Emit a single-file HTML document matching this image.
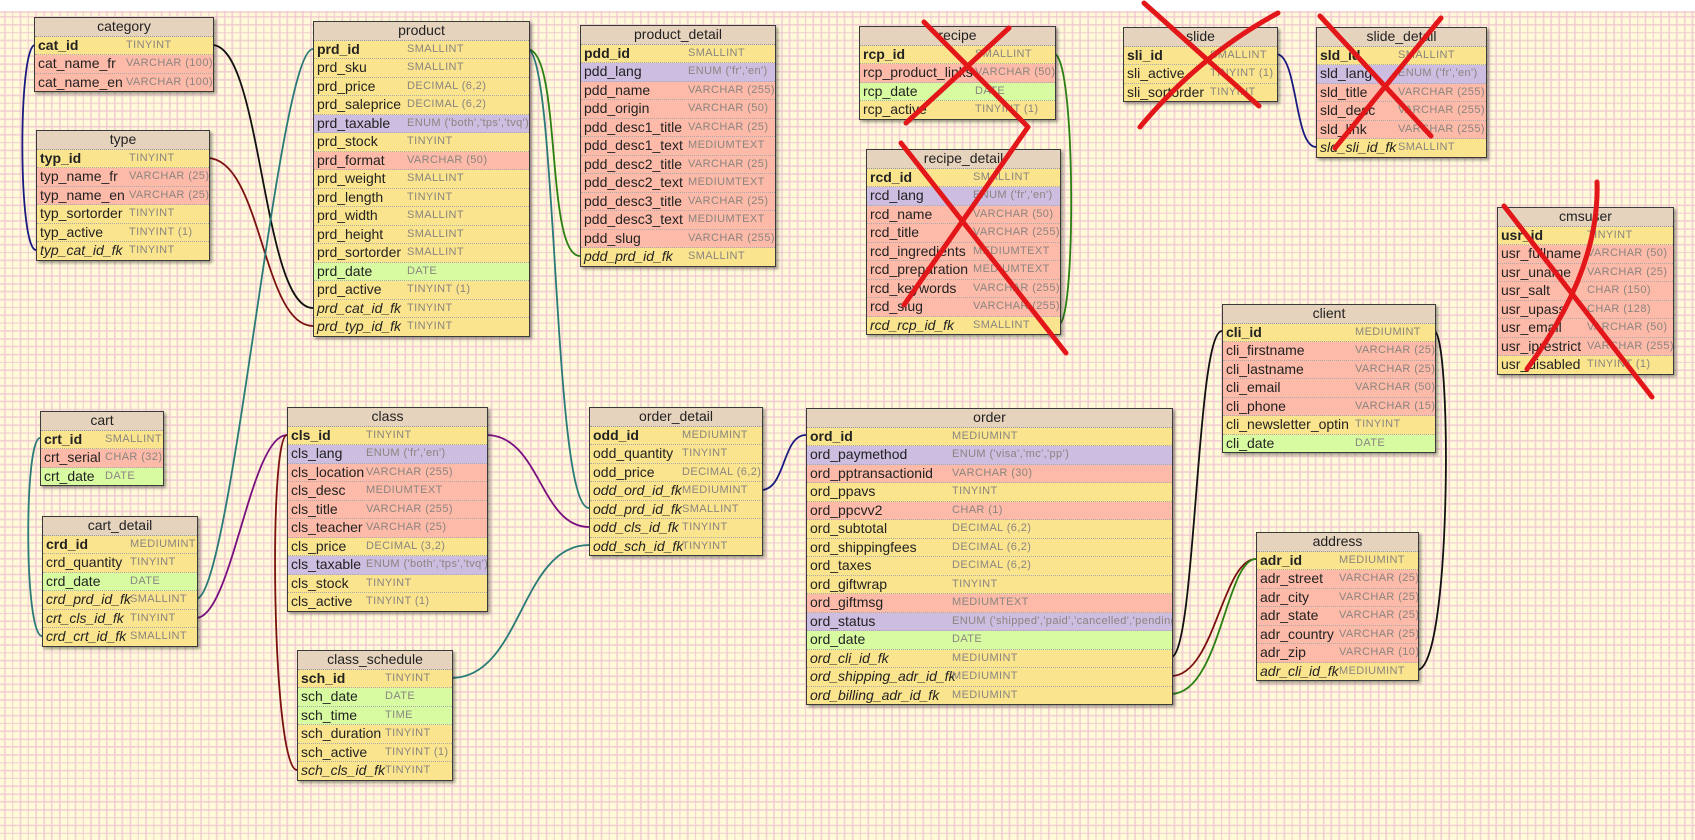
<!DOCTYPE html>
<html><head><meta charset="utf-8">
<style>
html,body{margin:0;padding:0}
body{width:1695px;height:840px;position:relative;overflow:hidden;background:#fff;font-family:"Liberation Sans",sans-serif}
#grid{position:absolute;left:0;top:11px;width:1695px;height:829px;background-color:#fffad8;
background-image:repeating-linear-gradient(90deg,rgba(240,200,210,.8) 0 1.6px,transparent 1.6px 7.85px),repeating-linear-gradient(0deg,rgba(240,200,210,.8) 0 1.6px,transparent 1.6px 7.85px);background-position:4px 2px}
.t{position:absolute;border:1px solid #3a3a3a;box-shadow:2px 2px 3px rgba(0,0,0,.4);background:#fbe48e}
.h{height:17.5px;line-height:17.5px;text-align:center;background:#e6d3bd;font-size:14px;color:#222;border-bottom:1px dotted #999}
.r{position:relative;overflow:hidden;height:17.5px;line-height:17.5px;border-bottom:1px dotted #aaa;font-size:14px;color:#222;padding-left:3px;white-space:nowrap}
.r:last-child{border-bottom:none}
.r span{position:absolute;top:0;left:var(--c);font-size:11px;letter-spacing:.4px;color:#8a8580}
.y{background:#fbe48e}.p{background:#fdbaa8}.u{background:#cdbde0}.g{background:#d8fba2}
.r b{font-weight:bold}
.r i{font-style:italic}
svg{position:absolute;left:0;top:0}
</style></head><body>
<div id="grid"></div>
<svg width="1695" height="840" fill="none" stroke-width="1.8">
<path d="M212 45 C262 45,262 308,313 308" stroke="#111"/>
<path d="M35 45 C18 45,18 250,36 250" stroke="#1a1a80"/>
<path d="M207 158 C262 158,262 326,313 326" stroke="#7a1010"/>
<path d="M313 49 C278 49,232 599,196 599" stroke="#2a7a78"/>
<path d="M527 49 C562 49,545 256,580 256" stroke="#2a8010"/>
<path d="M527 49 C558 49,552 508,589 508" stroke="#2a7a78"/>
<path d="M1054 54 C1076 54,1076 324,1059 324" stroke="#2a8010"/>
<path d="M1276 54 C1298 54,1294 147,1316 147" stroke="#1a1a80"/>
<path d="M40 438 C24 438,24 636,42 636" stroke="#2a7a78"/>
<path d="M287 435 C250 435,232 618,196 618" stroke="#7a1080"/>
<path d="M287 435 C268 435,272 770,297 770" stroke="#7a1010"/>
<path d="M486 435 C540 435,540 527,589 527" stroke="#7a1080"/>
<path d="M451 678 C522 678,520 545,589 545" stroke="#2a7a78"/>
<path d="M806 435 C782 435,786 490,761 490" stroke="#1a1a80"/>
<path d="M1222 331 C1196 331,1196 657,1171 657" stroke="#111"/>
<path d="M1434 331 C1452 331,1452 670,1417 670" stroke="#111"/>
<path d="M1256 559 C1222 559,1215 676,1171 676" stroke="#7a1010"/>
<path d="M1256 559 C1226 559,1220 694,1171 694" stroke="#2a8010"/>
</svg>

<div class="t" style="left:34px;top:17px;width:178px;--c:91px"><div class="h">category</div>
<div class="r y"><b>cat_id</b><span>TINYINT</span></div>
<div class="r p">cat_name_fr<span>VARCHAR (100)</span></div>
<div class="r p">cat_name_en<span>VARCHAR (100)</span></div></div>

<div class="t" style="left:36px;top:130px;width:172px;--c:92px"><div class="h">type</div>
<div class="r y"><b>typ_id</b><span>TINYINT</span></div>
<div class="r p">typ_name_fr<span>VARCHAR (25)</span></div>
<div class="r p">typ_name_en<span>VARCHAR (25)</span></div>
<div class="r y">typ_sortorder<span>TINYINT</span></div>
<div class="r y">typ_active<span>TINYINT (1)</span></div>
<div class="r y"><i>typ_cat_id_fk</i><span>TINYINT</span></div></div>

<div class="t" style="left:313px;top:21px;width:215px;--c:93px"><div class="h">product</div>
<div class="r y"><b>prd_id</b><span>SMALLINT</span></div>
<div class="r y">prd_sku<span>SMALLINT</span></div>
<div class="r y">prd_price<span>DECIMAL (6,2)</span></div>
<div class="r y">prd_saleprice<span>DECIMAL (6,2)</span></div>
<div class="r u">prd_taxable<span>ENUM ('both','tps','tvq')</span></div>
<div class="r y">prd_stock<span>TINYINT</span></div>
<div class="r p">prd_format<span>VARCHAR (50)</span></div>
<div class="r y">prd_weight<span>SMALLINT</span></div>
<div class="r y">prd_length<span>TINYINT</span></div>
<div class="r y">prd_width<span>SMALLINT</span></div>
<div class="r y">prd_height<span>SMALLINT</span></div>
<div class="r y">prd_sortorder<span>SMALLINT</span></div>
<div class="r g">prd_date<span>DATE</span></div>
<div class="r y">prd_active<span>TINYINT (1)</span></div>
<div class="r y"><i>prd_cat_id_fk</i><span>TINYINT</span></div>
<div class="r y"><i>prd_typ_id_fk</i><span>TINYINT</span></div></div>

<div class="t" style="left:580px;top:25px;width:194px;--c:107px"><div class="h">product_detail</div>
<div class="r y"><b>pdd_id</b><span>SMALLINT</span></div>
<div class="r u">pdd_lang<span>ENUM ('fr','en')</span></div>
<div class="r p">pdd_name<span>VARCHAR (255)</span></div>
<div class="r p">pdd_origin<span>VARCHAR (50)</span></div>
<div class="r p">pdd_desc1_title<span>VARCHAR (25)</span></div>
<div class="r p">pdd_desc1_text<span>MEDIUMTEXT</span></div>
<div class="r p">pdd_desc2_title<span>VARCHAR (25)</span></div>
<div class="r p">pdd_desc2_text<span>MEDIUMTEXT</span></div>
<div class="r p">pdd_desc3_title<span>VARCHAR (25)</span></div>
<div class="r p">pdd_desc3_text<span>MEDIUMTEXT</span></div>
<div class="r p">pdd_slug<span>VARCHAR (255)</span></div>
<div class="r y"><i>pdd_prd_id_fk</i><span>SMALLINT</span></div></div>

<div class="t" style="left:859px;top:26px;width:195px;--c:115px"><div class="h">recipe</div>
<div class="r y"><b>rcp_id</b><span>SMALLINT</span></div>
<div class="r p">rcp_product_links<span>VARCHAR (50)</span></div>
<div class="r g">rcp_date<span>DATE</span></div>
<div class="r y">rcp_active<span>TINYINT (1)</span></div></div>

<div class="t" style="left:866px;top:149px;width:193px;--c:106px"><div class="h">recipe_detail</div>
<div class="r y"><b>rcd_id</b><span>SMALLINT</span></div>
<div class="r u">rcd_lang<span>ENUM ('fr','en')</span></div>
<div class="r p">rcd_name<span>VARCHAR (50)</span></div>
<div class="r p">rcd_title<span>VARCHAR (255)</span></div>
<div class="r p">rcd_ingredients<span>MEDIUMTEXT</span></div>
<div class="r p">rcd_preparation<span>MEDIUMTEXT</span></div>
<div class="r p">rcd_keywords<span>VARCHAR (255)</span></div>
<div class="r p">rcd_slug<span>VARCHAR (255)</span></div>
<div class="r y"><i>rcd_rcp_id_fk</i><span>SMALLINT</span></div></div>

<div class="t" style="left:1123px;top:27px;width:153px;--c:86px"><div class="h">slide</div>
<div class="r y"><b>sli_id</b><span>SMALLINT</span></div>
<div class="r y">sli_active<span>TINYINT (1)</span></div>
<div class="r y">sli_sortorder<span>TINYINT</span></div></div>

<div class="t" style="left:1316px;top:27px;width:169px;--c:81px"><div class="h">slide_detail</div>
<div class="r y"><b>sld_id</b><span>SMALLINT</span></div>
<div class="r u">sld_lang<span>ENUM ('fr','en')</span></div>
<div class="r p">sld_title<span>VARCHAR (255)</span></div>
<div class="r p">sld_desc<span>VARCHAR (255)</span></div>
<div class="r p">sld_link<span>VARCHAR (255)</span></div>
<div class="r y"><i>sld_sli_id_fk</i><span>SMALLINT</span></div></div>

<div class="t" style="left:1497px;top:207px;width:175px;--c:89px"><div class="h">cmsuser</div>
<div class="r y"><b>usr_id</b><span>TINYINT</span></div>
<div class="r p">usr_fullname<span>VARCHAR (50)</span></div>
<div class="r p">usr_uname<span>VARCHAR (25)</span></div>
<div class="r p">usr_salt<span>CHAR (150)</span></div>
<div class="r p">usr_upass<span>CHAR (128)</span></div>
<div class="r p">usr_email<span>VARCHAR (50)</span></div>
<div class="r p">usr_iprestrict<span>VARCHAR (255)</span></div>
<div class="r y">usr_disabled<span>TINYINT (1)</span></div></div>

<div class="t" style="left:1222px;top:304px;width:212px;--c:132px"><div class="h">client</div>
<div class="r y"><b>cli_id</b><span>MEDIUMINT</span></div>
<div class="r p">cli_firstname<span>VARCHAR (25)</span></div>
<div class="r p">cli_lastname<span>VARCHAR (25)</span></div>
<div class="r p">cli_email<span>VARCHAR (50)</span></div>
<div class="r p">cli_phone<span>VARCHAR (15)</span></div>
<div class="r y">cli_newsletter_optin<span>TINYINT</span></div>
<div class="r g">cli_date<span>DATE</span></div></div>

<div class="t" style="left:1256px;top:532px;width:161px;--c:82px"><div class="h">address</div>
<div class="r y"><b>adr_id</b><span>MEDIUMINT</span></div>
<div class="r p">adr_street<span>VARCHAR (25)</span></div>
<div class="r p">adr_city<span>VARCHAR (25)</span></div>
<div class="r p">adr_state<span>VARCHAR (25)</span></div>
<div class="r p">adr_country<span>VARCHAR (25)</span></div>
<div class="r p">adr_zip<span>VARCHAR (10)</span></div>
<div class="r y"><i>adr_cli_id_fk</i><span>MEDIUMINT</span></div></div>

<div class="t" style="left:806px;top:408px;width:365px;--c:145px"><div class="h">order</div>
<div class="r y"><b>ord_id</b><span>MEDIUMINT</span></div>
<div class="r u">ord_paymethod<span>ENUM ('visa','mc','pp')</span></div>
<div class="r p">ord_pptransactionid<span>VARCHAR (30)</span></div>
<div class="r y">ord_ppavs<span>TINYINT</span></div>
<div class="r p">ord_ppcvv2<span>CHAR (1)</span></div>
<div class="r y">ord_subtotal<span>DECIMAL (6,2)</span></div>
<div class="r y">ord_shippingfees<span>DECIMAL (6,2)</span></div>
<div class="r y">ord_taxes<span>DECIMAL (6,2)</span></div>
<div class="r y">ord_giftwrap<span>TINYINT</span></div>
<div class="r p">ord_giftmsg<span>MEDIUMTEXT</span></div>
<div class="r u">ord_status<span>ENUM ('shipped','paid','cancelled','pending')</span></div>
<div class="r g">ord_date<span>DATE</span></div>
<div class="r y"><i>ord_cli_id_fk</i><span>MEDIUMINT</span></div>
<div class="r y"><i>ord_shipping_adr_id_fk</i><span>MEDIUMINT</span></div>
<div class="r y"><i>ord_billing_adr_id_fk</i><span>MEDIUMINT</span></div></div>

<div class="t" style="left:589px;top:407px;width:172px;--c:92px"><div class="h">order_detail</div>
<div class="r y"><b>odd_id</b><span>MEDIUMINT</span></div>
<div class="r y">odd_quantity<span>TINYINT</span></div>
<div class="r y">odd_price<span>DECIMAL (6,2)</span></div>
<div class="r y"><i>odd_ord_id_fk</i><span>MEDIUMINT</span></div>
<div class="r y"><i>odd_prd_id_fk</i><span>SMALLINT</span></div>
<div class="r y"><i>odd_cls_id_fk</i><span>TINYINT</span></div>
<div class="r y"><i>odd_sch_id_fk</i><span>TINYINT</span></div></div>

<div class="t" style="left:40px;top:411px;width:122px;--c:64px"><div class="h">cart</div>
<div class="r y"><b>crt_id</b><span>SMALLINT</span></div>
<div class="r p">crt_serial<span>CHAR (32)</span></div>
<div class="r g">crt_date<span>DATE</span></div></div>

<div class="t" style="left:42px;top:516px;width:154px;--c:87px"><div class="h">cart_detail</div>
<div class="r y"><b>crd_id</b><span>MEDIUMINT</span></div>
<div class="r y">crd_quantity<span>TINYINT</span></div>
<div class="r g">crd_date<span>DATE</span></div>
<div class="r y"><i>crd_prd_id_fk</i><span>SMALLINT</span></div>
<div class="r y"><i>crt_cls_id_fk</i><span>TINYINT</span></div>
<div class="r y"><i>crd_crt_id_fk</i><span>SMALLINT</span></div></div>

<div class="t" style="left:287px;top:407px;width:199px;--c:78px"><div class="h">class</div>
<div class="r y"><b>cls_id</b><span>TINYINT</span></div>
<div class="r u">cls_lang<span>ENUM ('fr','en')</span></div>
<div class="r p">cls_location<span>VARCHAR (255)</span></div>
<div class="r p">cls_desc<span>MEDIUMTEXT</span></div>
<div class="r p">cls_title<span>VARCHAR (255)</span></div>
<div class="r p">cls_teacher<span>VARCHAR (25)</span></div>
<div class="r y">cls_price<span>DECIMAL (3,2)</span></div>
<div class="r u">cls_taxable<span>ENUM ('both','tps','tvq')</span></div>
<div class="r y">cls_stock<span>TINYINT</span></div>
<div class="r y">cls_active<span>TINYINT (1)</span></div></div>

<div class="t" style="left:297px;top:650px;width:154px;--c:87px"><div class="h">class_schedule</div>
<div class="r y"><b>sch_id</b><span>TINYINT</span></div>
<div class="r g">sch_date<span>DATE</span></div>
<div class="r g">sch_time<span>TIME</span></div>
<div class="r y">sch_duration<span>TINYINT</span></div>
<div class="r y">sch_active<span>TINYINT (1)</span></div>
<div class="r y"><i>sch_cls_id_fk</i><span>TINYINT</span></div></div>

<svg width="1695" height="840" fill="none" stroke="#e3161a" stroke-width="5" stroke-linecap="round" stroke-linejoin="round">
<path d="M924 22 L1028 127 L904 305"/>
<path d="M1009 28 L906 123"/>
<path d="M901 143 L1066 353"/>
<path d="M1144 3 L1259 106"/>
<path d="M1278 13 Q1200 55 1140 127"/>
<path d="M1320 16 L1431 136"/>
<path d="M1441 18 L1335 148"/>
<path d="M1504 206 L1652 397"/>
<path d="M1597 182 Q1600 270 1527 369"/>
</svg>
</body></html>
